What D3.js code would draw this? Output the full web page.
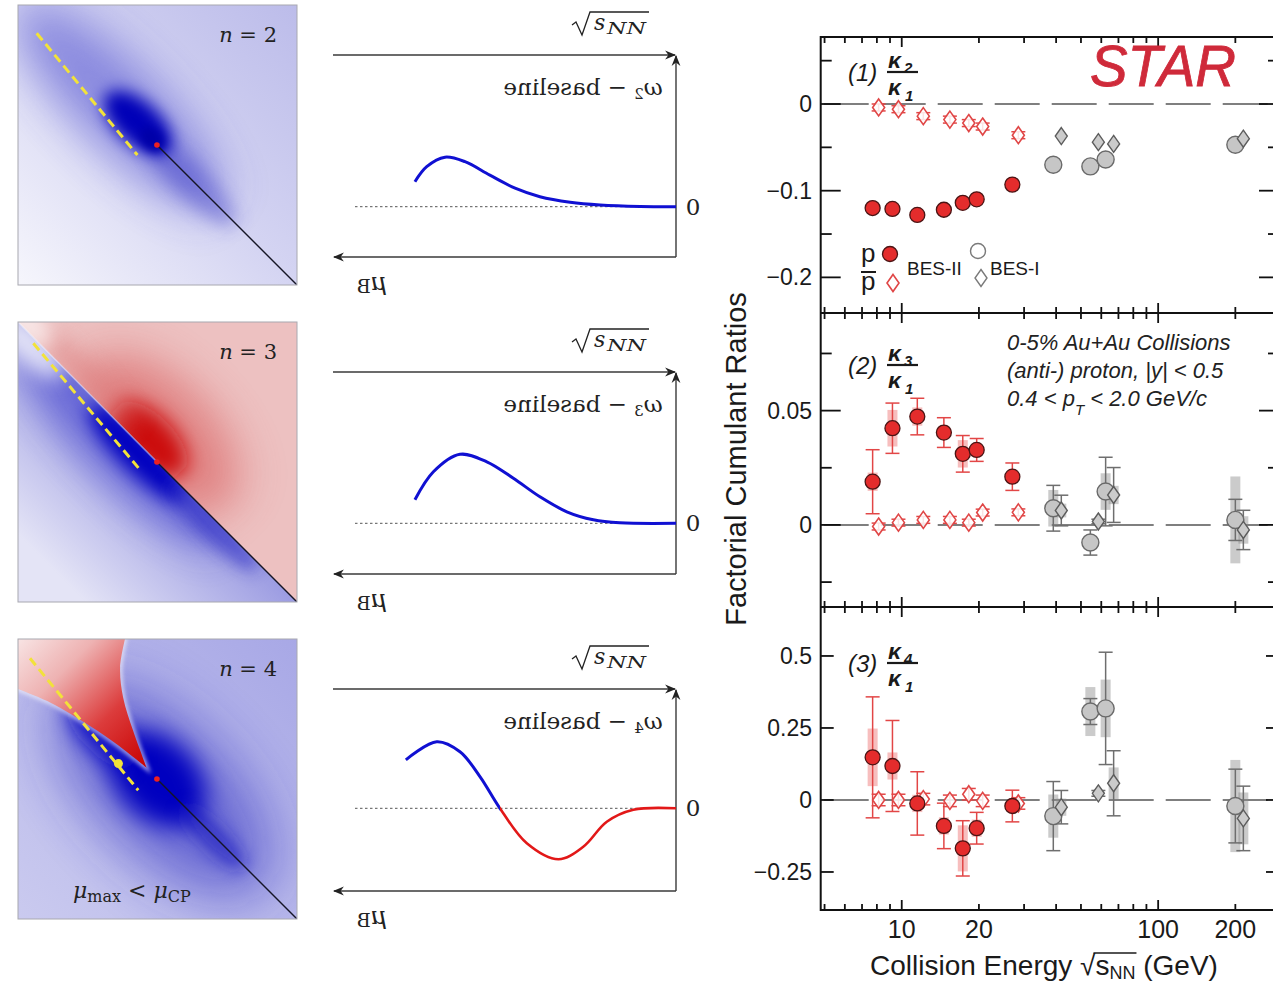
<!DOCTYPE html>
<html>
<head>
<meta charset="utf-8">
<script src="https://cdn.jsdelivr.net/npm/d3@7/dist/d3.min.js"></script>
<style>
  body { margin: 0; background: #fff; }
  svg { display: block; }
</style>
</head>
<body>
<div id="chart"></div>
<script>
// ---------- data ----------
const energiesBES2 = [7.7, 9.2, 11.5, 14.6, 17.3, 19.6, 27];
const energiesBES1 = [39, 54.4, 62.4, 200];

// (1) kappa2 / kappa1
const k21ProtonBES2 = [-0.120, -0.121, -0.128, -0.122, -0.114, -0.110, -0.093];
const k21PbarBES2   = [-0.004, -0.006, -0.014, -0.018, -0.022, -0.026, -0.036];
const k21PbarBES2Stat = [0.004, 0.004, 0.004, 0.004, 0.004, 0.004, 0.004];
const k21ProtonBES1 = [-0.070, -0.072, -0.064, -0.047];
const k21PbarBES1   = [-0.037, -0.044, -0.046, -0.040];

// (2) kappa3 / kappa1
const k31ProtonBES2     = [0.0189, 0.0423, 0.0474, 0.0404, 0.0311, 0.0328, 0.0211];
const k31ProtonBES2Stat = [0.014, 0.011, 0.008, 0.0065, 0.008, 0.005, 0.006];
const k31ProtonBES2Sys  = [0.004, 0.008, 0.004, 0.003, 0.006, 0.003, 0.003];
const k31PbarBES2       = [-0.0007, 0.001, 0.0022, 0.0022, 0.001, 0.0054, 0.0055];
const k31PbarBES2Stat   = [0.0015, 0.0015, 0.0015, 0.0015, 0.0015, 0.0015, 0.0015];
const k31ProtonBES1     = [0.0073, -0.0077, 0.0146, 0.0022];
const k31ProtonBES1Stat = [0.010, 0.0055, 0.015, 0.009];
const k31ProtonBES1Sys  = [0.008, 0.003, 0.008, 0.019];
const k31PbarBES1       = [0.0063, 0.0015, 0.0131, -0.0022];
const k31PbarBES1Stat   = [0.0067, 0.001, 0.012, 0.0086];
const k31PbarBES1Sys    = [0.003, 0.001, 0.004, 0.006];

// (3) kappa4 / kappa1
const k41ProtonBES2     = [0.148, 0.118, -0.012, -0.090, -0.168, -0.098, -0.021];
const k41ProtonBES2Stat = [0.21, 0.158, 0.11, 0.079, 0.096, 0.055, 0.055];
const k41ProtonBES2Sys  = [0.10, 0.047, 0.03, 0.03, 0.08, 0.03, 0.02];
const k41PbarBES2       = [0.0, 0.0, 0.003, -0.003, 0.02, -0.003, -0.012];
const k41PbarBES2Stat   = [0.02, 0.02, 0.02, 0.02, 0.02, 0.02, 0.02];
const k41ProtonBES1     = [-0.056, 0.307, 0.318, -0.021];
const k41ProtonBES1Stat = [0.12, 0.045, 0.195, 0.128];
const k41ProtonBES1Sys  = [0.075, 0.085, 0.10, 0.16];
const k41PbarBES1       = [-0.025, 0.023, 0.058, -0.064];
const k41PbarBES1Stat   = [0.058, 0.01, 0.113, 0.112];
const k41PbarBES1Sys    = [0.03, 0.01, 0.055, 0.09];

// axis ticks of the STAR panels
const yTicks1 = [-0.2, -0.1, 0],          yTickLabels1 = ["\u22120.2", "\u22120.1", "0"], yMinor1 = [-0.15, -0.05, 0.05];
const yTicks2 = [0, 0.05],                yTickLabels2 = ["0", "0.05"],                  yMinor2 = [-0.025, 0.025, 0.075];
const yTicks3 = [-0.25, 0, 0.25, 0.5],    yTickLabels3 = ["\u22120.25", "0", "0.25", "0.5"], yMinor3 = [];
const xTicks = [10, 20, 100, 200],        xTickLabels = ["10", "20", "100", "200"];
const xMajor = [10, 100];
const xMinor = [5, 6, 7, 8, 9, 20, 30, 40, 50, 60, 70, 80, 90, 200];

// sketches in the middle column: [muB (0 at the vertical axis), omega_n - baseline]
const omega2Curve = [[0.777, 0.50], [0.742, 0.80], [0.6875, 0.99], [0.628, 0.90], [0.554, 0.63], [0.479, 0.37], [0.405, 0.20], [0.315, 0.09], [0.226, 0.035], [0.107, 0.005], [0, 0]];
const omega3Curve = [[0.777, 0.47], [0.722, 1.03], [0.643, 1.38], [0.563, 1.23], [0.484, 0.90], [0.405, 0.53], [0.325, 0.23], [0.246, 0.07], [0.167, 0.01], [0, 0]];
const omega4Curve = [[0.804, 0.97], [0.712, 1.33], [0.643, 1.13], [0.583, 0.63], [0.524, 0.0], [0.444, -0.70], [0.35, -1.02], [0.276, -0.77], [0.206, -0.27], [0.127, -0.03], [0, 0]];
const omegaOrders = ["2", "3", "4"];
const signChange = [0, 0, 0.524];

// phase-diagram maps (unit square, y downwards)
const critPoint = [0.498, 0.5];
const crossoverEnd = [1, 1];
const freezeoutLines = [
  [[0.067, 0.101], [0.428, 0.536]],
  [[0.055, 0.076], [0.435, 0.525]],
  [[0.043, 0.069], [0.431, 0.540]]
];
const freezeoutDot = [0.36, 0.445];
const wedgeLower = [[0, 0.179], [0.115, 0.227], [0.258, 0.311], [0.354, 0.376], [0.461, 0.46]];
const wedgeUpper = [[0.461, 0.46], [0.413, 0.329], [0.377, 0.21], [0.366, 0.1025], [0.3835, 0]];
const mapOrders = ["2", "3", "4"];

// ---------- canvas ----------
const W = 1273, H = 985;
const svg = d3.select("#chart").append("svg").attr("width", W).attr("height", H);
svg.append("rect").attr("width", W).attr("height", H).attr("fill", "#fff");
const defs = svg.append("defs");

[2, 4, 6, 7, 8, 9, 10, 12, 14, 18, 22, 24, 28].forEach(s => {
  defs.append("filter").attr("id", "blur" + s)
    .attr("x", "-100%").attr("y", "-100%").attr("width", "300%").attr("height", "300%")
    .append("feGaussianBlur").attr("stdDeviation", s);
});

function linGrad(id, x1, y1, x2, y2, stops, units) {
  const gr = defs.append("linearGradient").attr("id", id)
    .attr("x1", x1).attr("y1", y1).attr("x2", x2).attr("y2", y2);
  if (units) gr.attr("gradientUnits", units);
  stops.forEach(s => gr.append("stop").attr("offset", s[0]).attr("stop-color", s[1]));
}

const serif = "'DejaVu Serif', 'Liberation Serif', serif";
const sans = "'Liberation Sans', Arial, Helvetica, sans-serif";

// ---------- left column: density maps ----------
const rowOffsets = [0, 317, 634];
const hmX = 18, hmY = 5, hmW = 279, hmH = 280;
const hx = d3.scaleLinear([0, 1], [0, hmW]);
const hy = d3.scaleLinear([0, 1], [0, hmH]);

// blurred blobs: cx, cy, rx, ry, angle, colour, opacity, blur
const n2Blobs = [
  [0.36, 0.36, 0.50, 0.15, 45, "#4040cc", 0.5, 22],
  [0.62, 0.63, 0.22, 0.06, 45, "#3434c4", 0.4, 9],
  [0.43, 0.42, 0.15, 0.075, 42, "#0000b8", 1, 8],
  [0.48, 0.48, 0.05, 0.035, 45, "#0000a8", 1, 4]
];
const n3UpBlobs = [
  [0.50, 0.40, 0.36, 0.20, 45, "#d65050", 0.55, 22],
  [0.47, 0.42, 0.17, 0.09, 45, "#cc0a0a", 1, 10],
  [0.25, 0.20, 0.25, 0.05, 45, "#dd7a7a", 0.45, 10],
  [0.03, 0.0, 0.12, 0.06, 45, "#ffffff", 0.6, 9]
];
const n3LowBlobs = [
  [0.38, 0.44, 0.50, 0.14, 45, "#3a3acc", 0.55, 18],
  [0.43, 0.47, 0.24, 0.065, 45, "#0000c0", 1, 9],
  [0.70, 0.73, 0.22, 0.05, 45, "#2a2ac4", 0.6, 8],
  [0.05, 0.09, 0.15, 0.06, 45, "#ffffff", 0.75, 10]
];
const n4Blobs = [
  [0.52, 0.54, 0.50, 0.24, 45, "#2626c0", 0.55, 28],
  [0.50, 0.50, 0.20, 0.14, 45, "#0000c0", 1, 12],
  [0.30, 0.34, 0.16, 0.07, 45, "#1010c4", 0.9, 10],
  [0.70, 0.71, 0.16, 0.045, 45, "#1414c0", 0.6, 8]
];

function blobs(g, list) {
  list.forEach(([cx, cy, rx, ry, ang, fill, op, bl]) => {
    g.append("ellipse")
      .attr("cx", hx(cx)).attr("cy", hy(cy))
      .attr("rx", rx * hmW).attr("ry", ry * hmW)
      .attr("transform", `rotate(${ang},${hx(cx)},${hy(cy)})`)
      .attr("fill", fill).attr("opacity", op)
      .attr("filter", `url(#blur${bl})`);
  });
}

linGrad("bg2", 1, 0, 0, 1, [[0, "#bcbcea"], [0.5, "#d4d4f2"], [1, "#f6f6fc"]]);
linGrad("bg3low", 0.5, 0.5, 0.12, 0.88, [[0, "#9c9ce2"], [1, "#e4e4f6"]]);
linGrad("bg4", 1, 0, 0, 1, [[0, "#a8a8e6"], [1, "#cacaef"]]);
linGrad("wedge", hx(0), hy(0), hx(0.461), hy(0.46),
  [[0, "#f8e4e4"], [0.3, "#eeb2b2"], [0.65, "#dc3c3c"], [1, "#c80000"]], "userSpaceOnUse");

const triUp = [[0, 0], [1, 0], [1, 1]];
const triLow = [[0, 0], [1, 1], [0, 1]];
const ptsStr = pts => pts.map(p => hx(p[0]) + "," + hy(p[1])).join(" ");

rowOffsets.forEach((off, i) => {
  const g = svg.append("g").attr("transform", `translate(${hmX},${hmY + off})`);
  defs.append("clipPath").attr("id", "hmclip" + i)
    .append("rect").attr("width", hmW).attr("height", hmH);
  const inner = g.append("g").attr("clip-path", `url(#hmclip${i})`);

  if (i === 0) {
    inner.append("rect").attr("width", hmW).attr("height", hmH).attr("fill", "url(#bg2)");
    blobs(inner, n2Blobs);
  } else if (i === 1) {
    defs.append("clipPath").attr("id", "triUp").append("polygon").attr("points", ptsStr(triUp));
    defs.append("clipPath").attr("id", "triLow").append("polygon").attr("points", ptsStr(triLow));
    const up = inner.append("g").attr("clip-path", "url(#triUp)");
    up.append("rect").attr("width", hmW).attr("height", hmH).attr("fill", "#edc1c1");
    blobs(up, n3UpBlobs);
    const low = inner.append("g").attr("clip-path", "url(#triLow)");
    low.append("rect").attr("width", hmW).attr("height", hmH).attr("fill", "url(#bg3low)");
    blobs(low, n3LowBlobs);
    inner.append("line")
      .attr("x1", hx(0)).attr("y1", hy(0)).attr("x2", hx(critPoint[0])).attr("y2", hy(critPoint[1]))
      .attr("stroke", "#fff").attr("stroke-opacity", 0.45).attr("stroke-width", 1.5);
  } else {
    inner.append("rect").attr("width", hmW).attr("height", hmH).attr("fill", "url(#bg4)");
    blobs(inner, n4Blobs);
    const edge = d3.line().x(d => hx(d[0])).y(d => hy(d[1])).curve(d3.curveCatmullRom.alpha(0.5));
    const wedgePath = edge(wedgeLower) + edge(wedgeUpper).replace(/^M/, "L") + `L${hx(0)},${hy(0)}Z`;
    inner.append("path").attr("d", wedgePath).attr("fill", "none")
      .attr("stroke", "#fff").attr("stroke-width", 4).attr("opacity", 0.7).attr("filter", "url(#blur2)");
    inner.append("path").attr("d", wedgePath).attr("fill", "url(#wedge)");
  }

  // crossover line, freeze-out line, critical point
  inner.append("line")
    .attr("x1", hx(critPoint[0])).attr("y1", hy(critPoint[1]))
    .attr("x2", hx(crossoverEnd[0])).attr("y2", hy(crossoverEnd[1]))
    .attr("stroke", "#151525").attr("stroke-width", 1.4);
  const fl = freezeoutLines[i];
  inner.append("line")
    .attr("x1", hx(fl[0][0])).attr("y1", hy(fl[0][1]))
    .attr("x2", hx(fl[1][0])).attr("y2", hy(fl[1][1]))
    .attr("stroke", "#f2e23a").attr("stroke-width", 3).attr("stroke-dasharray", "9,5");
  if (i === 2) {
    inner.append("circle").attr("cx", hx(freezeoutDot[0])).attr("cy", hy(freezeoutDot[1]))
      .attr("r", 4.5).attr("fill", "#f2e23a");
  }
  inner.append("circle").attr("cx", hx(critPoint[0])).attr("cy", hy(critPoint[1]))
    .attr("r", 2.8).attr("fill", "#ee2020");

  g.append("rect").attr("width", hmW).attr("height", hmH)
    .attr("fill", "none").attr("stroke", "#a8a8b0").attr("stroke-width", 1);

  const lbl = g.append("text").attr("x", 259).attr("y", 37)
    .attr("text-anchor", "end").style("font-family", serif).style("font-size", "21px").attr("fill", "#222");
  lbl.append("tspan").style("font-style", "italic").text("n");
  lbl.append("tspan").text(" = " + mapOrders[i]);

  if (i === 2) {
    const t = g.append("text").attr("x", 55).attr("y", 259)
      .style("font-family", serif).style("font-size", "22px").attr("fill", "#222");
    t.append("tspan").style("font-style", "italic").text("\u03bc");
    t.append("tspan").style("font-size", "16px").attr("dy", 4).text("max");
    t.append("tspan").attr("dy", -4).text(" < ");
    t.append("tspan").style("font-style", "italic").text("\u03bc");
    t.append("tspan").style("font-size", "16px").attr("dy", 4).text("CP");
  }
});

// ---------- middle column: sketches ----------
defs.append("marker").attr("id", "arrow")
  .attr("viewBox", "0 0 10 10").attr("refX", 9).attr("refY", 5)
  .attr("markerWidth", 11).attr("markerHeight", 11).attr("markerUnits", "userSpaceOnUse")
  .attr("orient", "auto")
  .append("path").attr("d", "M0,1 L10,5 L0,9 L3,5 Z").attr("fill", "#222");

const muScale = d3.scaleLinear([0, 1], [676, 340]);
const omegaCurves = [omega2Curve, omega3Curve, omega4Curve];
const zeroLevels = [206.7, 206.3, 174.3];
const midL = 333, midR = 676;

rowOffsets.forEach((off, i) => {
  const g = svg.append("g");
  const topY = 55 + off, botY = 257 + off, zeroY = zeroLevels[i] + off;
  const vScale = d3.scaleLinear([0, 1], [zeroY, zeroY - 50]);

  g.append("line").attr("x1", midL).attr("y1", topY).attr("x2", midR - 1).attr("y2", topY)
    .attr("stroke", "#3a3a3a").attr("stroke-width", 1.4).attr("marker-end", "url(#arrow)");
  g.append("line").attr("x1", midR).attr("y1", botY).attr("x2", midR).attr("y2", topY + 1)
    .attr("stroke", "#3a3a3a").attr("stroke-width", 1.4).attr("marker-end", "url(#arrow)");
  g.append("line").attr("x1", midR).attr("y1", botY).attr("x2", midL + 1).attr("y2", botY)
    .attr("stroke", "#3a3a3a").attr("stroke-width", 1.4).attr("marker-end", "url(#arrow)");
  g.append("line").attr("x1", 355).attr("y1", zeroY).attr("x2", midR).attr("y2", zeroY)
    .attr("stroke", "#555").attr("stroke-width", 1).attr("stroke-dasharray", "2.5,2.5");

  // curve, blue where positive, red where negative
  const line = d3.line().x(d => muScale(d[0])).y(d => vScale(d[1])).curve(d3.curveCatmullRom.alpha(0.5));
  const xs = muScale(signChange[i]);
  defs.append("clipPath").attr("id", "pos" + i).append("rect")
    .attr("x", 0).attr("y", 0).attr("width", xs).attr("height", H);
  defs.append("clipPath").attr("id", "neg" + i).append("rect")
    .attr("x", xs).attr("y", 0).attr("width", W - xs).attr("height", H);
  g.append("path").attr("d", line(omegaCurves[i])).attr("fill", "none")
    .attr("stroke", "#1010d2").attr("stroke-width", 3).attr("clip-path", `url(#pos${i})`);
  g.append("path").attr("d", line(omegaCurves[i])).attr("fill", "none")
    .attr("stroke", "#e21818").attr("stroke-width", 2.6).attr("clip-path", `url(#neg${i})`);

  // sqrt(s_NN)
  const ty = topY - 25;
  g.append("path")
    .attr("d", `M572,${ty - 5} L576,${ty - 8} L582,${ty + 5} L590,${ty - 18} L649,${ty - 18}`)
    .attr("fill", "none").attr("stroke", "#222").attr("stroke-width", 1.3);
  g.append("text").attr("x", 594).attr("y", ty)
    .style("font-family", serif).style("font-size", "22px").style("font-style", "italic").attr("fill", "#222")
    .text("s");
  g.append("text").attr("x", 607).attr("y", ty + 4)
    .attr("textLength", 39).attr("lengthAdjust", "spacingAndGlyphs")
    .style("font-family", serif).style("font-size", "16px").style("font-style", "italic").attr("fill", "#222")
    .text("NN");

  // mirrored "omega_n - baseline"
  const cx = 583;
  const om = g.append("text").attr("x", cx).attr("y", topY + 40)
    .attr("text-anchor", "middle").attr("transform", `translate(${2 * cx},0) scale(-1,1)`)
    .style("font-family", serif).style("font-size", "23px").attr("fill", "#222");
  om.append("tspan").style("font-style", "italic").text("\u03c9");
  om.append("tspan").style("font-size", "15px").attr("dy", 4).text(omegaOrders[i]);
  om.append("tspan").attr("dy", -4).text(" \u2212 baseline");

  g.append("text").attr("x", 693).attr("y", zeroY + 8).attr("text-anchor", "middle")
    .style("font-family", serif).style("font-size", "23px").attr("fill", "#222").text("0");

  // mirrored mu_B
  const mx = 372;
  const mu = g.append("text").attr("x", mx).attr("y", botY + 33)
    .attr("text-anchor", "middle").attr("transform", `translate(${2 * mx},0) scale(-1,1)`)
    .style("font-family", serif).style("font-size", "25px").attr("fill", "#222");
  mu.append("tspan").style("font-style", "italic").text("\u03bc");
  mu.append("tspan").style("font-size", "19px").attr("dy", 3).text("B");
});

// ---------- right column: STAR factorial cumulant ratios ----------
const frameL = 820.7, frameR = 1279;
const xE = d3.scaleLog().domain([4.83, 296]).range([frameL, frameR]);
const right = svg.append("g").style("font-family", sans);

const styles = {
  p2:    { shape: "circle",  r: 7.5, fill: "#e42c2c", stroke: "#4a1414", sw: 1.3, err: "#e24646", sys: "rgba(232,70,70,0.35)", dx: 0 },
  pbar2: { shape: "diamond", fill: "rgba(255,255,255,0.85)", stroke: "#e04646", sw: 1.6, err: "#e24646", sys: "rgba(232,70,70,0.35)", dx: 6 },
  p1:    { shape: "circle",  r: 8.5, fill: "#c6c6c6", stroke: "#6a6a6a", sw: 1.4, err: "#6e6e6e", sys: "rgba(140,140,140,0.45)", dx: 0 },
  pbar1: { shape: "diamond", fill: "#cbcbcb", stroke: "#5c5c5c", sw: 1.4, err: "#6e6e6e", sys: "rgba(140,140,140,0.45)", dx: 8 }
};
const diamondPath = "M0,-8.5L6,0L0,8.5L-6,0Z";

const panels = [
  { top: 37, bottom: 313, domain: [-0.2411, 0.0773], ticks: yTicks1, labels: yTickLabels1, minor: yMinor1, majorLen: 20, barY: 72, order: "2", num: "1",
    series: [
      ["pbar2", energiesBES2, k21PbarBES2, k21PbarBES2Stat, null],
      ["p2", energiesBES2, k21ProtonBES2, null, null],
      ["p1", energiesBES1, k21ProtonBES1, null, null],
      ["pbar1", energiesBES1, k21PbarBES1, null, null]
    ] },
  { top: 313, bottom: 607, domain: [-0.0359, 0.0927], ticks: yTicks2, labels: yTickLabels2, minor: yMinor2, majorLen: 20, barY: 365, order: "3", num: "2",
    series: [
      ["pbar2", energiesBES2, k31PbarBES2, k31PbarBES2Stat, null],
      ["p2", energiesBES2, k31ProtonBES2, k31ProtonBES2Stat, k31ProtonBES2Sys],
      ["p1", energiesBES1, k31ProtonBES1, k31ProtonBES1Stat, k31ProtonBES1Sys],
      ["pbar1", energiesBES1, k31PbarBES1, k31PbarBES1Stat, k31PbarBES1Sys]
    ] },
  { top: 607, bottom: 910, domain: [-0.382, 0.670], ticks: yTicks3, labels: yTickLabels3, minor: yMinor3, majorLen: 13, barY: 663, order: "4", num: "3",
    series: [
      ["pbar2", energiesBES2, k41PbarBES2, k41PbarBES2Stat, null],
      ["p2", energiesBES2, k41ProtonBES2, k41ProtonBES2Stat, k41ProtonBES2Sys],
      ["p1", energiesBES1, k41ProtonBES1, k41ProtonBES1Stat, k41ProtonBES1Sys],
      ["pbar1", energiesBES1, k41PbarBES1, k41PbarBES1Stat, k41PbarBES1Sys]
    ] }
];

panels.forEach(p => {
  const y = d3.scaleLinear().domain(p.domain).range([p.bottom, p.top]);
  const g = right.append("g");

  // dashed zero line
  g.append("line").attr("x1", frameL).attr("x2", frameR).attr("y1", y(0)).attr("y2", y(0))
    .attr("stroke", "#555").attr("stroke-width", 1.6)
    .attr("stroke-dasharray", "45,12").attr("stroke-dashoffset", 54);

  const rows = s => s[1].map((e, i) => ({ e, v: s[2][i], stat: s[3] ? s[3][i] : 0, sys: s[4] ? s[4][i] : 0, st: styles[s[0]] }));
  const all = p.series.map(rows);

  // systematic boxes
  all.forEach(rs => {
    g.selectAll(null).data(rs.filter(d => d.sys > 0)).enter().append("rect")
      .attr("x", d => xE(d.e) + d.st.dx - 5).attr("width", 10)
      .attr("y", d => y(d.v + d.sys)).attr("height", d => y(d.v - d.sys) - y(d.v + d.sys))
      .attr("fill", d => d.st.sys);
  });
  // statistical bars
  all.forEach(rs => {
    const eb = g.selectAll(null).data(rs.filter(d => d.stat > 0)).enter().append("g")
      .attr("stroke", d => d.st.err).attr("stroke-width", 1.5);
    eb.append("line").attr("x1", d => xE(d.e) + d.st.dx).attr("x2", d => xE(d.e) + d.st.dx)
      .attr("y1", d => y(d.v + d.stat)).attr("y2", d => y(d.v - d.stat));
    [1, -1].forEach(sg => {
      eb.append("line").attr("x1", d => xE(d.e) + d.st.dx - 7).attr("x2", d => xE(d.e) + d.st.dx + 7)
        .attr("y1", d => y(d.v + sg * d.stat)).attr("y2", d => y(d.v + sg * d.stat));
    });
  });
  // markers
  all.forEach(rs => {
    rs.forEach(d => {
      const px = xE(d.e) + d.st.dx, py = y(d.v);
      if (d.st.shape === "circle") {
        g.append("circle").attr("cx", px).attr("cy", py).attr("r", d.st.r)
          .attr("fill", d.st.fill).attr("stroke", d.st.stroke).attr("stroke-width", d.st.sw);
      } else {
        g.append("path").attr("d", diamondPath).attr("transform", `translate(${px},${py})`)
          .attr("fill", d.st.fill).attr("stroke", d.st.stroke).attr("stroke-width", d.st.sw);
      }
    });
  });

  // y ticks, both sides
  const tk = right.append("g").attr("stroke", "#111").attr("stroke-width", 1.8);
  p.ticks.forEach(t => {
    tk.append("line").attr("x1", frameL).attr("x2", frameL + p.majorLen).attr("y1", y(t)).attr("y2", y(t));
    tk.append("line").attr("x1", frameR).attr("x2", frameR - p.majorLen).attr("y1", y(t)).attr("y2", y(t));
  });
  p.minor.forEach(t => {
    tk.append("line").attr("x1", frameL).attr("x2", frameL + 11).attr("y1", y(t)).attr("y2", y(t));
    tk.append("line").attr("x1", frameR).attr("x2", frameR - 11).attr("y1", y(t)).attr("y2", y(t));
  });
  p.ticks.forEach((t, i) => {
    right.append("text").attr("x", 812).attr("y", y(t) + 8).attr("text-anchor", "end")
      .style("font-size", "23px").attr("fill", "#1a1a1a").text(p.labels[i]);
  });
  // x ticks at top and bottom of each panel
  [[p.top, 1], [p.bottom, -1]].forEach(([yy, dir]) => {
    xMajor.forEach(e => tk.append("line").attr("x1", xE(e)).attr("x2", xE(e)).attr("y1", yy).attr("y2", yy + dir * 10));
    xMinor.forEach(e => tk.append("line").attr("x1", xE(e)).attr("x2", xE(e)).attr("y1", yy).attr("y2", yy + dir * 6));
  });

  // panel label: (n) kappa_k / kappa_1
  const lab = right.append("g").attr("fill", "#1a1a1a");
  lab.append("text").attr("x", 848).attr("y", p.barY + 9)
    .style("font-size", "24px").style("font-style", "italic").text(`(${p.num})`);
  lab.append("line").attr("x1", 887).attr("x2", 918).attr("y1", p.barY).attr("y2", p.barY)
    .attr("stroke", "#1a1a1a").attr("stroke-width", 2.2);
  lab.append("text").attr("x", 888).attr("y", p.barY - 4)
    .style("font-size", "23px").style("font-style", "italic").style("font-weight", "bold").text("\u03ba");
  lab.append("text").attr("x", 904).attr("y", p.barY + 1)
    .style("font-size", "15px").style("font-style", "italic").style("font-weight", "bold").text(p.order);
  lab.append("text").attr("x", 888).attr("y", p.barY + 22.5)
    .style("font-size", "23px").style("font-style", "italic").style("font-weight", "bold").text("\u03ba");
  lab.append("text").attr("x", 905).attr("y", p.barY + 29)
    .style("font-size", "15px").style("font-style", "italic").style("font-weight", "bold").text("1");
});

// x tick labels
xTicks.forEach((t, i) => {
  right.append("text").attr("x", xE(t)).attr("y", 938).attr("text-anchor", "middle")
    .style("font-size", "25px").attr("fill", "#1a1a1a").text(xTickLabels[i]);
});

// frame
const fr = right.append("g").attr("stroke", "#111").attr("stroke-width", 2).attr("fill", "none");
fr.append("rect").attr("x", frameL).attr("y", 37).attr("width", frameR - frameL).attr("height", 910 - 37);
[313, 607].forEach(yy => fr.append("line").attr("x1", frameL).attr("x2", frameR).attr("y1", yy).attr("y2", yy));

// STAR logo
right.append("text").attr("x", 1090).attr("y", 86).attr("textLength", 146).attr("lengthAdjust", "spacingAndGlyphs")
  .style("font-size", "57px").style("font-style", "italic").attr("fill", "#cf2a3a")
  .attr("stroke", "#cf2a3a").attr("stroke-width", 0.8).text("STAR");

// legend
const lg = right.append("g").attr("fill", "#1a1a1a");
lg.append("text").attr("x", 861).attr("y", 262).style("font-size", "26px").text("p");
lg.append("text").attr("x", 861).attr("y", 290).style("font-size", "26px").text("p");
lg.append("line").attr("x1", 861).attr("x2", 876).attr("y1", 272).attr("y2", 272).attr("stroke", "#1a1a1a").attr("stroke-width", 2);
lg.append("circle").attr("cx", 890).attr("cy", 254).attr("r", 7.5)
  .attr("fill", styles.p2.fill).attr("stroke", styles.p2.stroke).attr("stroke-width", 1.3);
lg.append("path").attr("d", diamondPath).attr("transform", "translate(893,283)")
  .attr("fill", "#fff").attr("stroke", styles.pbar2.stroke).attr("stroke-width", 1.6);
lg.append("text").attr("x", 907).attr("y", 275).style("font-size", "19px").text("BES-II");
lg.append("circle").attr("cx", 978).attr("cy", 251).attr("r", 7.5)
  .attr("fill", "#fff").attr("stroke", "#7a7a7a").attr("stroke-width", 1.4);
lg.append("path").attr("d", diamondPath).attr("transform", "translate(981,278)")
  .attr("fill", "#fff").attr("stroke", "#7a7a7a").attr("stroke-width", 1.4);
lg.append("text").attr("x", 990).attr("y", 275).style("font-size", "19px").text("BES-I");

// description in panel (2)
const desc = right.append("g").attr("fill", "#222").style("font-size", "22px").style("font-style", "italic");
desc.append("text").attr("x", 1007).attr("y", 350).text("0-5% Au+Au Collisions");
desc.append("text").attr("x", 1007).attr("y", 378).text("(anti-) proton, |y| < 0.5");
const d3l = desc.append("text").attr("x", 1007).attr("y", 406);
d3l.append("tspan").text("0.4 < p");
d3l.append("tspan").attr("dy", 9).style("font-size", "15px").text("T");
d3l.append("tspan").attr("dy", -9).text(" < 2.0 GeV/c");

// axis titles
right.append("text").attr("transform", "translate(746,459) rotate(-90)").attr("text-anchor", "middle")
  .style("font-size", "29px").attr("fill", "#1a1a1a").text("Factorial Cumulant Ratios");

const xt = right.append("text").attr("x", 870).attr("y", 975).style("font-size", "28px").attr("fill", "#1a1a1a");
xt.append("tspan").text("Collision Energy \u221a");
xt.append("tspan").text("s");
xt.append("tspan").attr("dy", 4).style("font-size", "18px").text("NN");
xt.append("tspan").attr("dy", -4).text(" (GeV)");
const xtn = xt.node();
const sStart = xtn.getStartPositionOfChar(18).x, nnEnd = xtn.getEndPositionOfChar(20).x;
right.append("line").attr("x1", sStart - 2).attr("x2", nnEnd + 1).attr("y1", 953).attr("y2", 953)
  .attr("stroke", "#1a1a1a").attr("stroke-width", 1.6);
</script>
</body>
</html>
